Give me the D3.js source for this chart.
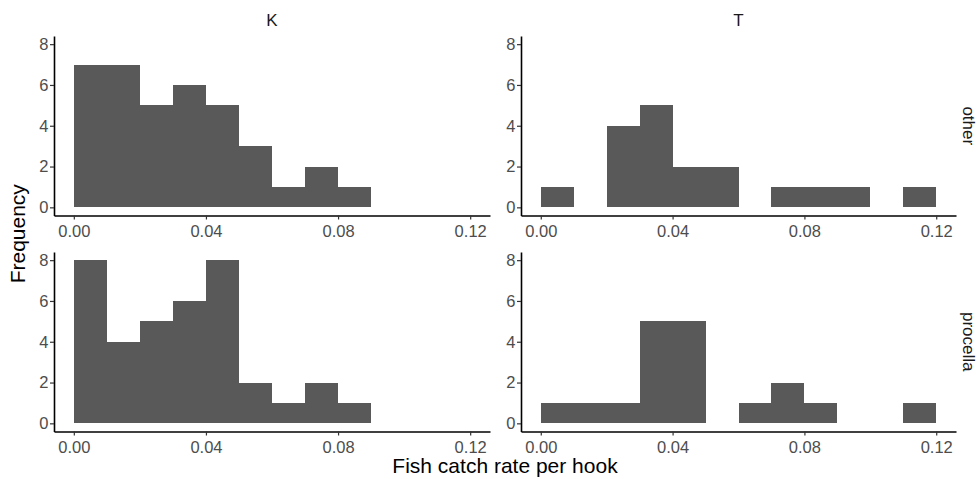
<!DOCTYPE html>
<html>
<head>
<meta charset="utf-8">
<script src="https://cdn.jsdelivr.net/npm/d3@7"></script>
<style>
  body { margin: 0; background: #fff; }
  svg { display: block; font-family: Arial, "Liberation Sans", sans-serif; }
  .tick text { fill: #4d4d4d; }
  .strip { fill: #1a1a1a; font-size: 17px; }
  .title { fill: #000; font-size: 21px; }
</style>
</head>
<body>
<svg id="chart" width="977" height="479"></svg>
<script>
// bin edges, width 0.01
const binStarts = [0, 0.01, 0.02, 0.03, 0.04, 0.05, 0.06, 0.07, 0.08, 0.09, 0.10, 0.11];
const binWidth = 0.01;
const columns = ["K", "T"];
const rows = ["other", "procella"];

const kOther    = [7, 7, 5, 6, 5, 3, 1, 2, 1, 0, 0, 0];
const tOther    = [1, 0, 4, 5, 2, 2, 0, 1, 1, 1, 0, 1];
const kProcella = [8, 4, 5, 6, 8, 2, 1, 2, 1, 0, 0, 0];
const tProcella = [1, 1, 1, 5, 5, 0, 1, 2, 1, 0, 0, 1];

const xTicks = [0, 0.04, 0.08, 0.12];
const yTicks = [0, 2, 4, 6, 8];

const panels = [
  { col: 0, row: 0, counts: kOther },
  { col: 1, row: 0, counts: tOther },
  { col: 0, row: 1, counts: kProcella },
  { col: 1, row: 1, counts: tProcella },
];

const svg = d3.select("#chart");

const colX = [[54, 490], [521, 956]];
const rowY = [[36, 215.5], [252, 431.5]];

const xScale = c => d3.scaleLinear().domain([-0.006, 0.126]).range(colX[c]);
const yScale = r => d3.scaleLinear().domain([-0.4, 8.4]).range([rowY[r][1], rowY[r][0]]);

panels.forEach(p => {
  const x = xScale(p.col);
  const y = yScale(p.row);
  const g = svg.append("g");

  const bins = binStarts.map((s, i) => ({ x0: s, x1: s + binWidth, n: p.counts[i] }))
    .filter(b => b.n > 0);

  g.selectAll("rect")
    .data(bins)
    .enter()
    .append("rect")
    .attr("x", b => x(b.x0))
    .attr("width", b => x(b.x1) - x(b.x0))
    .attr("y", b => y(b.n))
    .attr("height", b => y(0) - y(b.n))
    .attr("fill", "#595959")
    .attr("shape-rendering", "crispEdges");

  const xAxis = g.append("g")
    .attr("transform", `translate(0, ${rowY[p.row][1]})`)
    .call(d3.axisBottom(x).tickValues(xTicks).tickFormat(d3.format(".2f")).tickSize(4).tickSizeOuter(0));

  const yAxis = g.append("g")
    .attr("transform", `translate(${colX[p.col][0]}, 0)`)
    .call(d3.axisLeft(y).tickValues(yTicks).tickSize(4).tickSizeOuter(0));

  [xAxis, yAxis].forEach(a => {
    a.attr("font-size", 16.5).attr("font-family", null);
    a.select(".domain").attr("stroke", "#000").attr("stroke-width", 1.6);
    a.selectAll(".tick line").attr("stroke", "#333").attr("stroke-width", 1.2);
  });
  xAxis.selectAll(".tick text").attr("y", 9).attr("dy", "0.75em");
  yAxis.selectAll(".tick text").attr("x", -5.5);
});

// column strips
columns.forEach((c, i) => {
  svg.append("text")
    .attr("class", "strip")
    .attr("x", (colX[i][0] + colX[i][1]) / 2)
    .attr("y", 25.5)
    .attr("text-anchor", "middle")
    .text(c);
});

// row strips
rows.forEach((r, i) => {
  const cy = (rowY[i][0] + rowY[i][1]) / 2;
  svg.append("text")
    .attr("class", "strip")
    .attr("transform", `translate(963, ${cy}) rotate(90)`)
    .attr("text-anchor", "middle")
    .text(r);
});

svg.append("text")
  .attr("class", "title")
  .attr("transform", `translate(25, ${(rowY[0][0] + rowY[1][1]) / 2}) rotate(-90)`)
  .attr("text-anchor", "middle")
  .text("Frequency");

svg.append("text")
  .attr("class", "title")
  .attr("x", (colX[0][0] + colX[1][1]) / 2)
  .attr("y", 473)
  .attr("text-anchor", "middle")
  .text("Fish catch rate per hook");
</script>
</body>
</html>
